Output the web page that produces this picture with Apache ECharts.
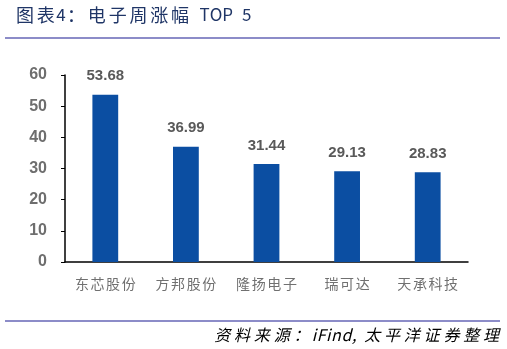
<!DOCTYPE html>
<html><head><meta charset="utf-8">
<script src="https://cdn.jsdelivr.net/npm/echarts@6/dist/echarts.min.js"></script>
<style>html,body{margin:0;padding:0;background:#fff}#c{width:507px;height:349px}</style>
</head><body><div id="c"></div>
<script>
const categories = ['东芯股份','方邦股份','隆扬电子','瑞可达','天承科技'];
const values = [53.68, 36.99, 31.44, 29.13, 28.83];
const yTicks = [0, 10, 20, 30, 40, 50, 60];
const titleText = '图表4：电子周涨幅 TOP 5';
const sourceText = '资料来源：iFind, 太平洋证券整理';

const font = '"Noto Sans CJK SC", "Noto Sans", sans-serif';
// letter-spaced text via rich segments: CJK chars use key, latin use key+'l', spaces key+'s'
function spaced(str, key) {
  return Array.from(str).map(ch => {
    if (ch === ' ') return '{' + key + 's| }';
    const cjk = /[\u3000-\u9fff\uff00-\uffef]/.test(ch);
    return '{' + key + (cjk ? '' : 'l') + '|' + ch + '}';
  }).join('');
}

const chart = echarts.init(document.getElementById('c'), null, {renderer: 'canvas'});
chart.setOption({
  animation: false,
  grid: {left: 65, right: 39, top: 75, bottom: 87, containLabel: false},
  xAxis: {
    type: 'category', data: categories,
    axisLine: {lineStyle: {color: '#000', width: 1.5}},
    axisTick: {inside: true, length: 4, lineStyle: {color: '#000'}},
    axisLabel: {
      margin: 15, interval: 0,
      formatter: v => spaced(v, 'c'),
      rich: {c: {color: '#707070', fontSize: 14, fontFamily: font, padding: [0, 0.8, 0, 0.8]}}
    }
  },
  yAxis: {
    type: 'value', min: yTicks[0], max: yTicks[yTicks.length-1], interval: 10,
    splitLine: {show: false},
    axisLine: {show: true, lineStyle: {color: '#000', width: 1.5}},
    axisTick: {show: true, length: 4, lineStyle: {color: '#000'}},
    axisLabel: {color: '#6e6e6e', fontSize: 16, fontWeight: 'bold', margin: 18, fontFamily: 'Arial, "Liberation Sans", sans-serif'}
  },
  series: [{
    type: 'bar', data: values, barWidth: '32%',
    itemStyle: {color: '#0b4ea2'},
    label: {show: true, position: 'top', distance: 11, color: '#595959', fontSize: 15, fontWeight: 'bold',
      fontFamily: 'Arial, "Liberation Sans", sans-serif', formatter: p => p.value.toFixed(2)}
  }],
  graphic: [
    {type: 'text', left: 16, top: 6, style: {
      text: spaced(titleText, 't'),
      rich: {
        t: {fill: '#1f3566', fontSize: 18, fontFamily: font, padding: [0, 1.4, 0, 1.4]},
        tl: {fill: '#1f3566', fontSize: 17, fontFamily: font, padding: [0, 0, 0, 0]},
        ts: {fill: '#1f3566', fontSize: 18, fontFamily: font, padding: [0, 2.5, 0, 2.5]}
      }
    }},
    {type: 'rect', shape: {x: 5, y: 37, width: 495, height: 2}, style: {fill: '#8c8cc8'}},
    {type: 'rect', shape: {x: 5, y: 320, width: 495, height: 2}, style: {fill: '#8c8cc8'}},
    {type: 'text', right: 8, top: 327, style: {
      text: spaced(sourceText, 's'),
      rich: {
        s: {fill: '#000', fontSize: 16, fontStyle: 'italic', fontFamily: font, padding: [0, 1.9, 0, 1.9]},
        sl: {fill: '#000', fontSize: 16, fontStyle: 'italic', fontFamily: font, padding: [0, 0.3, 0, 0.3]},
        ss: {fill: '#000', fontSize: 16, fontStyle: 'italic', fontFamily: font, padding: [0, 1, 0, 1]}
      }
    }}
  ]
});
</script></body></html>
